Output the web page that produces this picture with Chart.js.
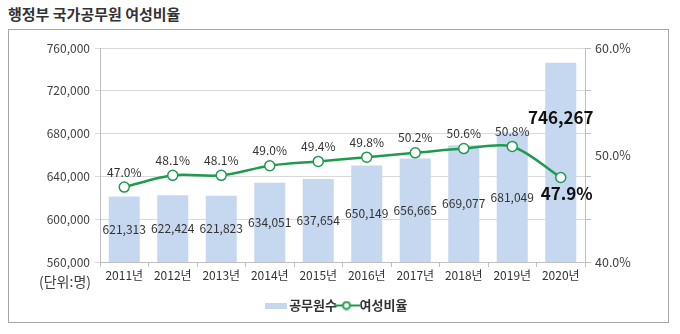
<!DOCTYPE html>
<html>
<head>
<meta charset="utf-8">
<script src="https://cdn.jsdelivr.net/npm/chart.js@4"></script>
<style>
    body { margin: 0; background: #fff; width: 680px; height: 334px; overflow: hidden; }
    #title { position: absolute; left: 8px; top: 3px; font: bold 15px "Noto Sans CJK KR"; color: #333; }
    #box { position: absolute; left: 8px; top: 29px; width: 659px; height: 292px; border: 1px solid #a6a6a6; }
    #unit { position: absolute; left: 30px; top: 241px; font: 14px "Noto Sans CJK KR"; color: #404040; }
    canvas { position: absolute; left: 0; top: 0; }
</style>
</head>
<body>
<div id="title">행정부 국가공무원 여성비율</div>
<div id="box">
    <canvas id="chart" width="659" height="292"></canvas>
    <div id="unit">(단위:명)</div>
</div>
<script>
const YEARS = ['2011년', '2012년', '2013년', '2014년', '2015년', '2016년', '2017년', '2018년', '2019년', '2020년'];
const STAFF = [621313, 622424, 621823, 634051, 637654, 650149, 656665, 669077, 681049, 746267];
const FEMALE_PCT = [47.0, 48.1, 48.1, 49.0, 49.4, 49.8, 50.2, 50.6, 50.8, 47.9];
const RIGHT_LABELS = [40, 50, 60];

const BAR_COLOR = '#c6d8ef';
const LINE_COLOR = '#1f9a4e';
const FONT = '"Noto Sans CJK KR"';

// legend icons
function barIcon(){
    const c = document.createElement('canvas');
    c.width = 22; c.height = 6;
    const g = c.getContext('2d');
    g.fillStyle = BAR_COLOR;
    g.fillRect(0, 0, 22, 6);
    return c;
}
function lineIcon(){
    const c = document.createElement('canvas');
    c.width = 26; c.height = 10;
    const g = c.getContext('2d');
    g.strokeStyle = LINE_COLOR;
    g.lineWidth = 2;
    g.beginPath(); g.moveTo(0, 5); g.lineTo(26, 5); g.stroke();
    g.fillStyle = '#fff';
    g.beginPath(); g.arc(13, 5, 3.5, 0, Math.PI * 2); g.fill(); g.stroke();
    return c;
}

const valueLabels = {
    id: 'valueLabels',
    afterDatasetsDraw(chart){
        const ctx = chart.ctx;
        const last = STAFF.length - 1;
        const bottom = chart.chartArea.bottom;
        ctx.save();
        ctx.textAlign = 'center';
        ctx.textBaseline = 'middle';
        chart.getDatasetMeta(0).data.forEach((el, i) => {
            const text = STAFF[i].toLocaleString('en-US');
            const base = Math.min(el.base, bottom);
            if (i === last) {
                ctx.font = 'bold 17px ' + FONT;
                ctx.fillStyle = '#111';
                ctx.fillText(text, el.x, el.y + (base - el.y) * 0.275);
            } else {
                ctx.font = '12px ' + FONT;
                ctx.fillStyle = '#333';
                ctx.fillText(text, el.x, (el.y + base) / 2);
            }
        });
        chart.getDatasetMeta(1).data.forEach((el, i) => {
            const text = FEMALE_PCT[i].toFixed(1) + '%';
            if (i === last) {
                ctx.font = 'bold 17px ' + FONT;
                ctx.fillStyle = '#111';
                ctx.fillText(text, el.x + 6, el.y + 16);
            } else {
                ctx.font = '12px ' + FONT;
                ctx.fillStyle = '#333';
                ctx.fillText(text, el.x, el.y - 15);
            }
        });
        ctx.restore();
    }
};

new Chart(document.getElementById('chart'), {
    data: {
        labels: YEARS,
        datasets: [{
            type: 'bar',
            label: '공무원수',
            data: STAFF,
            yAxisID: 'y',
            backgroundColor: BAR_COLOR,
            barPercentage: 0.64,
            categoryPercentage: 1,
            order: 2
        }, {
            type: 'line',
            label: '여성비율',
            data: FEMALE_PCT,
            yAxisID: 'y1',
            borderColor: LINE_COLOR,
            borderWidth: 2.5,
            tension: 0.3,
            pointRadius: 5,
            pointBorderWidth: 1.5,
            pointBackgroundColor: '#fff',
            pointBorderColor: LINE_COLOR,
            order: 1
        }]
    },
    options: {
        responsive: false,
        animation: false,
        layout: { padding: { top: 18, bottom: 0 } },
        plugins: {
            tooltip: { enabled: false },
            legend: {
                position: 'bottom',
                labels: {
                    usePointStyle: true,
                    color: '#333',
                    font: { family: FONT, size: 13, weight: 'bold' },
                    padding: 3,
                    sort: (a, b) => a.datasetIndex - b.datasetIndex,
                    generateLabels(chart){
                        const items = Chart.defaults.plugins.legend.labels.generateLabels(chart);
                        items.forEach(it => {
                            it.pointStyle = it.datasetIndex === 0 ? barIcon() : lineIcon();
                        });
                        return items;
                    }
                }
            }
        },
        scales: {
            x: {
                grid: { drawOnChartArea: false, drawTicks: true, tickLength: 5, color: '#bfbfbf' },
                border: { color: '#bfbfbf' },
                ticks: { color: '#333', font: { family: FONT, size: 12 }, padding: 1, maxRotation: 0 },
                afterFit(s){ s.height = 34; }
            },
            y: {
                position: 'left',
                min: 560000,
                max: 760000,
                ticks: {
                    stepSize: 40000,
                    color: '#404040',
                    font: { family: FONT, size: 12 },
                    padding: 5,
                    callback: v => v.toLocaleString('en-US')
                },
                grid: { color: '#d9d9d9', tickLength: 5 },
                border: { color: '#bfbfbf' },
                afterFit(s){ s.width = 91; }
            },
            y1: {
                position: 'right',
                min: 40,
                max: 60,
                afterBuildTicks(s){ s.ticks = [40, 44, 48, 50, 52, 56, 60].map(v => ({ value: v })); },
                ticks: {
                    color: '#404040',
                    font: { family: FONT, size: 12.5 },
                    padding: 4,
                    callback: v => RIGHT_LABELS.includes(v) ? v.toFixed(1) + '%' : ''
                },
                grid: {
                    drawOnChartArea: false,
                    tickLength: 6,
                    tickColor: c => (c.tick && c.tick.value === 50) ? 'rgba(0,0,0,0)' : '#bfbfbf'
                },
                border: { color: '#bfbfbf' },
                afterFit(s){ s.width = 83; }
            }
        }
    },
    plugins: [valueLabels]
});
</script>
</body>
</html>
